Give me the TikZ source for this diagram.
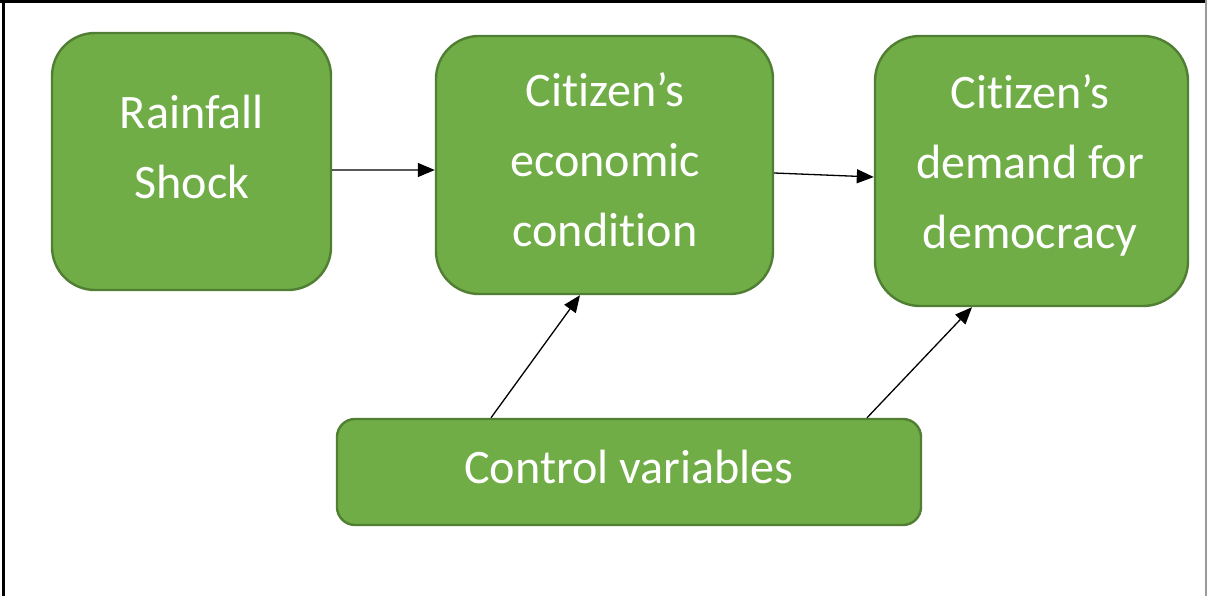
\documentclass[tikz,border=0pt]{standalone}
\usepackage{fontspec}
\setmainfont{Carlito}[Ligatures={NoCommon,NoContextual}]
\usetikzlibrary{arrows.meta}
\definecolor{boxfill}{HTML}{70AD47}
\definecolor{boxedge}{HTML}{507E32}
\definecolor{framegray}{HTML}{9A9A9A}
\begin{document}
\begin{tikzpicture}[x=1bp,y=-1bp,
  box/.style={draw=boxedge, line width=2.4bp, fill=boxfill, inner sep=0pt},
  boxtext/.style={text=white, font=\fontsize{48.3}{70.3}\selectfont, align=center, inner sep=0pt},
  link/.style={draw=black, line width=1.3bp, -{Triangle[length=17bp,width=14bp]}}]
  \useasboundingbox (0,0) rectangle (1207,596);

  % page frame
  \draw[line width=2.6bp] (0,1.3) -- (1206,1.3);
  \draw[line width=3bp] (3.5,0) -- (3.5,596);
  \draw[framegray, line width=1.4bp] (1206,0) -- (1206,596);

  % boxes
  \node[box, minimum width=279bp, minimum height=257bp, rounded corners=43bp] (b1) at (191.5,161.5) {};
  \node[box, minimum width=337bp, minimum height=258bp, rounded corners=43bp] (b2) at (604.5,165) {};
  \node[box, minimum width=313bp, minimum height=270bp, rounded corners=45bp] (b3) at (1031.5,171) {};
  \node[box, minimum width=584bp, minimum height=106bp, rounded corners=18bp] (b4) at (629,472) {};

  % labels
  \node[boxtext] (t1) at (192,147) {Rainfall\\Shock};
  \node[boxtext] (t2) at (605,160) {Citizen’s\\economic\\condition};
  \node[boxtext] (t3) at (1030,165) {Citizen’s\\demand for\\democracy};
  \node[boxtext, anchor=base] (t4) at (629,483) {Control variables};

  % connectors
  \draw[link] ([yshift=-8.5bp]b1.east) -- ([yshift=-5bp]b2.west);
  \draw[link] ([yshift=-8bp]b2.east) -- ([yshift=-6bp]b3.west);
  \draw[link] ([xshift=-138bp]b4.north) -- ([xshift=-24.5bp]b2.south);
  \draw[link] ([xshift=238bp]b4.north) -- ([xshift=-59.5bp]b3.south);
\end{tikzpicture}
\end{document}
